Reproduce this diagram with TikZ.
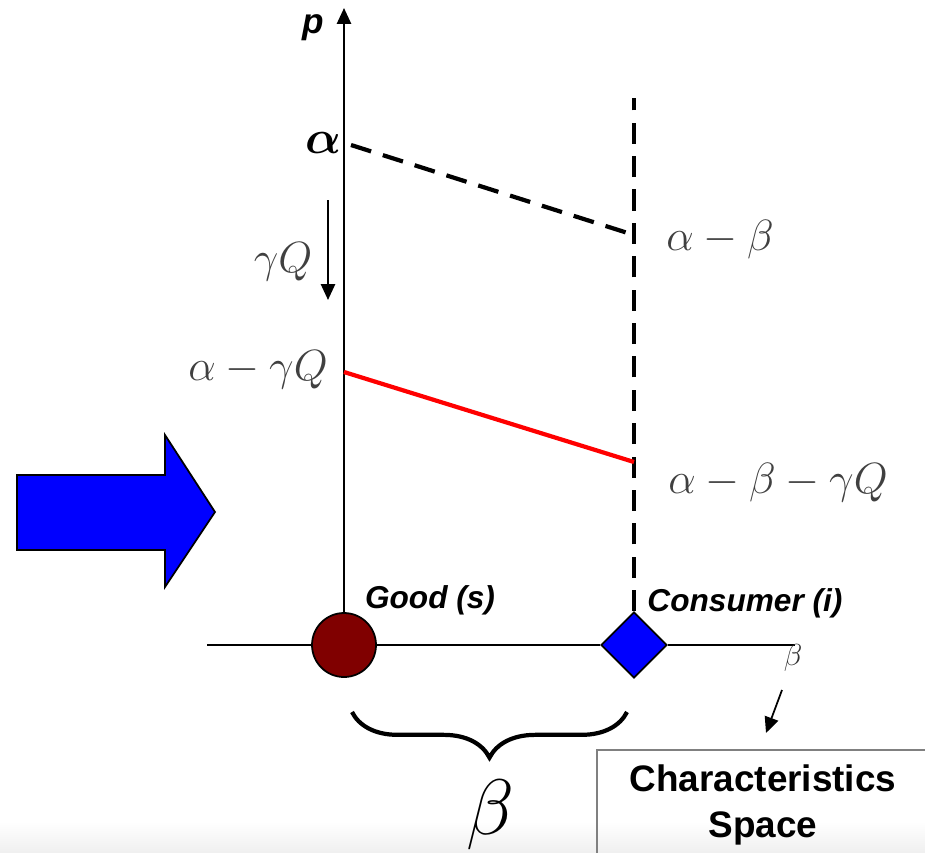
\documentclass[tikz,border=0pt]{standalone}
\usepackage{amsmath,amssymb}
\usepackage{fontspec}
\newfontfamily\lab{Liberation Sans}
\usetikzlibrary{arrows.meta, positioning, shapes.geometric, decorations.pathreplacing}

\begin{document}
\begin{tikzpicture}[x=0.02cm, y=-0.02cm,
  ax/.style={line width=1.2pt},
  dsh/.style={line width=2.4pt, dash pattern=on 12pt off 7pt},
  mlab/.style={text=black!75, font=\fontsize{25}{30}\selectfont},
  slab/.style={font=\lab\bfseries\itshape\fontsize{18}{22}\selectfont},
  tip/.style={-{Triangle[length=9pt, width=8pt]}}]
\useasboundingbox (0,0) rectangle (925,852);
% faint strip at the bottom
\shade[top color=white, bottom color=gray!12, draw=none] (0,822) rectangle (925,852);

% points on the axis
\node[circle, draw, line width=1pt, fill={rgb,255:red,128;green,0;blue,0}, minimum size=64*0.02cm, inner sep=0] (good) at (344,645) {};
\node[diamond, draw, line width=1pt, fill=blue, minimum size=66*0.02cm, inner sep=0] (cons) at (634,645) {};
\coordinate (xl) at (207,645);
\coordinate (xr) at (795,645);
\coordinate (ptop) at (344,8);
\coordinate (ctop) at (634,98);
\coordinate (a) at (344,145);
\coordinate (ab) at (634,235);
\coordinate (ag) at (344,372);
\coordinate (abg) at (634,462);

\draw[ax] (xl) -- (good) -- (cons) -- (xr);
\draw[ax, tip] (good) -- (ptop);
\draw[dsh] (cons) -- (ctop);
\draw[dsh] ([xshift=7*0.02cm]a) -- (ab);
\draw[red, line width=2.4pt] (ag) -- (abg);

% labels
\node[font=\lab\bfseries\itshape\fontsize{20}{24}\selectfont] (p) at (313,28) {p};
\node[font=\fontsize{25}{30}\selectfont, scale=1.08] (alab) at (323,143) {$\boldsymbol{\alpha}$};
\node[mlab] (ablab) at (720,240) {$\alpha-\beta$};
\node[mlab] (aglab) at (258,370) {$\alpha-\gamma Q$};
\node[mlab] (abglab) at (778,483) {$\alpha-\beta-\gamma Q$};
\node[mlab] (gq) at (283,262) {$\gamma Q$};
\coordinate (gq1) at (328,200);
\coordinate (gq2) at (328,300);
\draw[ax, tip] (gq1) -- (gq2);

\node[slab] (goodlab) at (430,600) {Good (s)};
\node[slab] (conslab) at (745,603) {Consumer (i)};
\node[text=black!80, font=\fontsize{16}{18}\selectfont] (bsmall) at (793,658) {$\beta$};
\coordinate (c1) at (782,690);
\coordinate (c2) at (766,733);
\draw[line width=1pt, tip] (c1) -- (c2);

% brace and distance
\draw[line width=2.4pt, decorate, decoration={brace, amplitude=26pt}] (627,712) -- (352,712);
\node[font=\fontsize{25}{30}\selectfont, scale=1.8] (bbig) at (490,815) {$\beta$};

% box
\draw[gray, line width=0.8pt] (940,750) -- (597,750) -- (597,870);
\node[align=center, font=\lab\bfseries\fontsize{21}{26}\selectfont] (space) at (763,805) {Characteristics\\Space};

% big blue arrow
\draw[line width=1pt, fill=blue] (17,475) -- (165,475) -- (165,435) -- (215,512) -- (165,587) -- (165,550) -- (17,550) -- cycle;
\end{tikzpicture}
\end{document}
